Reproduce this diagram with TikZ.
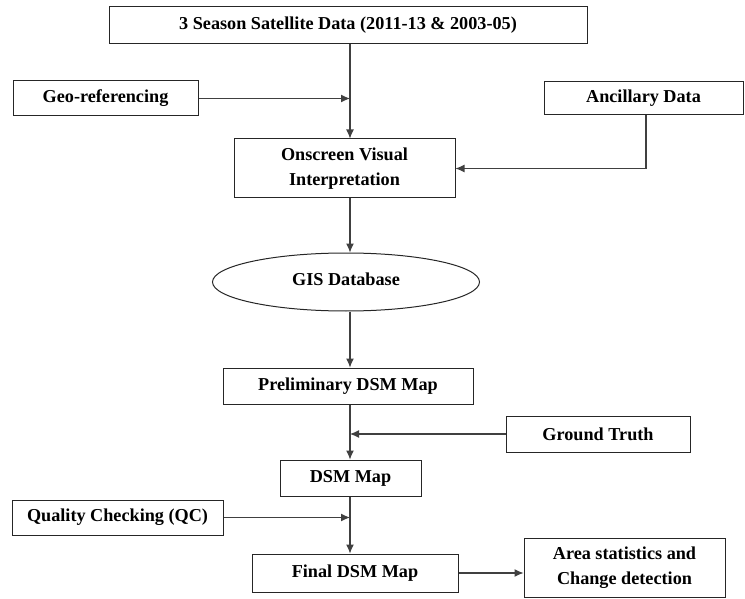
\documentclass[tikz,border=0pt]{standalone}
\usepackage{fontspec}
\setmainfont{Liberation Serif}
\usetikzlibrary{arrows.meta,shapes.geometric}
\begin{document}
\begin{tikzpicture}[x=1pt,y=-1pt,
  every node/.style={font=\fontsize{18.2}{25}\selectfont\bfseries, inner sep=0pt, align=center, draw=black!85, line width=1pt},
  conn/.style={draw=black!75, line width=1.1pt, -{Latex[length=9pt,width=8pt]}},
  plain/.style={draw=black!75, line width=1.1pt}]
\useasboundingbox (0,0) rectangle (745,599);
\node[minimum width=478pt, minimum height=37pt] (sat) at (348,25.5) {3 Season Satellite Data (2011-13 \& 2003-05)};
\node[minimum width=185pt, minimum height=35pt] (geo) at (105.5,98.5) {Geo-referencing};
\node[minimum width=199pt, minimum height=33pt] (anc) at (643.5,98.5) {Ancillary Data};
\node[minimum width=221pt, minimum height=59pt] (osv) at (344.5,168.5) {Onscreen Visual\\Interpretation};
\node[ellipse, minimum width=267pt, minimum height=58pt] (gis) at (346,282) {\raisebox{5pt}{GIS Database}};
\node[minimum width=250pt, minimum height=36pt] (pre) at (348,386) {Preliminary DSM Map};
\node[minimum width=184pt, minimum height=36pt] (gt) at (598,434) {Ground Truth};
\node[minimum width=141pt, minimum height=36pt] (dsm) at (350.5,478) {DSM Map};
\node[minimum width=211pt, minimum height=35pt] (qc) at (117.5,517.5) {Quality Checking (QC)};
\node[minimum width=206pt, minimum height=38pt] (fin) at (355,573) {Final DSM Map};
\node[minimum width=201pt, minimum height=59pt] (area) at (624.5,567.5) {Area statistics and\\Change detection};
\coordinate (sp) at (350,0);
\coordinate (ax) at (646,0);
\draw[conn] (sat.south -| sp) -- (osv.north -| sp);
\draw[conn] (geo.east) -- (geo.east -| sp);
\draw[conn] (anc.south -| ax) |- (osv.east);
\draw[conn] (osv.south -| sp) -- (gis.north -| sp);
\draw[conn] (gis.south -| sp) -- (pre.north -| sp);
\draw[conn] (pre.south -| sp) -- (dsm.north -| sp);
\draw[conn] (gt.west) -- (gt.west -| sp);
\draw[conn] (dsm.south -| sp) -- (fin.north -| sp);
\draw[conn] (qc.east) -- (qc.east -| sp);
\draw[conn] (fin.east) -- (area.west |- fin.east);
\end{tikzpicture}
\end{document}
